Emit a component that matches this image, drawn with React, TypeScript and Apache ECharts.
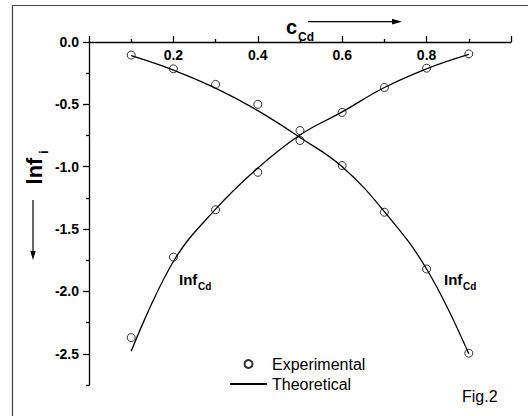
import React, { useEffect, useRef } from "react";
import * as echarts from "echarts";

// mole fraction of Cd
const xValues = [0.1, 0.2, 0.3, 0.4, 0.5, 0.6, 0.7, 0.8, 0.9];
// experimental ln f (curve rising towards pure Cd)
const expRising = [-2.37, -1.725, -1.345, -1.045, -0.71, -0.565, -0.365, -0.21, -0.095];
// experimental ln f (curve falling)
const expFalling = [-0.105, -0.215, -0.34, -0.5, -0.79, -0.99, -1.365, -1.82, -2.495];
// theoretical curves
const theoRising = [-2.48, -1.76, -1.34, -1.01, -0.745, -0.56, -0.365, -0.215, -0.1];
const theoFalling = [-0.11, -0.225, -0.37, -0.55, -0.765, -1.0, -1.36, -1.82, -2.5];

const yMajorTicks = [0, -0.5, -1.0, -1.5, -2.0, -2.5];
const yMinorTicks = [-0.25, -0.75, -1.25, -1.75, -2.25, -2.75];
const legendNames = ["Experimental", "Theoretical"];

const FONT = "'Liberation Sans', Arial, Helvetica, sans-serif";

const pairs = (ys: number[]) => xValues.map((x, i) => [x, ys[i]]);

export default function App() {
  const ref = useRef<HTMLDivElement>(null);
  useEffect(() => {
    document.body.style.margin = "0";
    const chart = echarts.init(ref.current!, null, { renderer: "svg" });
    const scatterStyle = {
      color: "rgba(255,255,255,0)",
      borderColor: "#000",
      borderWidth: 1,
    };
    const lineStyle = { color: "#000", width: 1.3 };
    chart.setOption({
      animation: false,
      backgroundColor: "#fff",
      grid: { left: 89, top: 42, width: 422, height: 343, containLabel: false },
      legend: {
        data: [
          { name: legendNames[0] },
          { name: legendNames[1], itemStyle: { opacity: 0 } },
        ],
        orient: "vertical",
        left: 229,
        top: 356,
        padding: 0,
        itemWidth: 37,
        itemHeight: 8,
        itemGap: 4,
        textStyle: { fontFamily: FONT, fontSize: 16, color: "#000" },
      },
      xAxis: {
        type: "value",
        position: "top",
        min: 0,
        max: 1,
        interval: 0.2,
        axisLine: { onZero: false, lineStyle: { color: "#000", width: 1.3 } },
        axisTick: { inside: false, length: 6, lineStyle: { color: "#000", width: 1.3 } },
        minorTick: { show: true, splitNumber: 2, length: 3, lineStyle: { color: "#000", width: 1.3 } },
        splitLine: { show: false },
        axisLabel: {
          inside: true,
          margin: 6,
          fontFamily: FONT,
          fontSize: 14,
          fontWeight: "bold",
          color: "#000",
          formatter: (v: number) => (v <= 0.0001 || v >= 0.9999 ? "" : v.toFixed(1)),
        },
      },
      yAxis: [
        {
          type: "value",
          position: "left",
          min: -2.75,
          max: 0,
          axisLine: { show: true, onZero: false, lineStyle: { color: "#000", width: 1.3 } },
          axisTick: { show: true, inside: false, length: 6, customValues: yMajorTicks, lineStyle: { color: "#000", width: 1.3 } },
          splitLine: { show: false },
          axisLabel: {
            customValues: yMajorTicks,
            margin: 10,
            fontFamily: FONT,
            fontSize: 14,
            fontWeight: "bold",
            color: "#000",
            formatter: (v: number) => v.toFixed(1),
          },
        },
        {
          type: "value",
          position: "left",
          min: -2.75,
          max: 0,
          axisLine: { show: false, onZero: false },
          axisTick: { show: true, inside: false, length: 3, customValues: yMinorTicks, lineStyle: { color: "#000", width: 1.3 } },
          splitLine: { show: false },
          axisLabel: { show: false },
        },
      ],
      series: [
        {
          name: "Theoretical",
          type: "line",
          data: pairs(theoRising),
          smooth: 0.4,
          showSymbol: false,
          symbol: "none",
          lineStyle,
          itemStyle: { color: "#000" },
        },
        {
          name: "Theoretical",
          type: "line",
          data: pairs(theoFalling),
          smooth: 0.4,
          showSymbol: false,
          symbol: "none",
          lineStyle,
          itemStyle: { color: "#000" },
        },
        {
          name: "Experimental",
          type: "scatter",
          data: pairs(expRising),
          symbol: "circle",
          symbolSize: 8,
          itemStyle: scatterStyle,
        },
        {
          name: "Experimental",
          type: "scatter",
          data: pairs(expFalling),
          symbol: "circle",
          symbolSize: 8,
          itemStyle: scatterStyle,
        },
      ],
      graphic: [
        {
          type: "rect",
          shape: { x: 12.5, y: 5.5, width: 540, height: 440 },
          style: { fill: "none", stroke: "#444", lineWidth: 1.2 },
          silent: true,
          z: -10,
        },
        // x axis title
        {
          type: "text",
          x: 286,
          y: 26.6,
          style: { text: "c", font: `bold 20px ${FONT}`, fill: "#000", align: "left", verticalAlign: "middle" },
        },
        {
          type: "text",
          x: 298,
          y: 37,
          style: { text: "Cd", font: `bold 12px ${FONT}`, fill: "#000", align: "left", verticalAlign: "middle" },
        },
        { type: "line", shape: { x1: 308, y1: 21.7, x2: 396, y2: 21.7 }, style: { stroke: "#000", lineWidth: 1.2 } },
        { type: "polygon", shape: { points: [[402, 21.7], [392, 18.8], [392, 24.6]] }, style: { fill: "#000" } },
        // y axis title
        {
          type: "text",
          x: 34,
          y: 171,
          rotation: Math.PI / 2,
          style: { text: "lnf", font: `bold 22px ${FONT}`, fill: "#000", align: "center", verticalAlign: "middle" },
        },
        {
          type: "text",
          x: 44,
          y: 152,
          rotation: Math.PI / 2,
          style: { text: "i", font: `bold 12px ${FONT}`, fill: "#000", align: "center", verticalAlign: "middle" },
        },
        { type: "line", shape: { x1: 33, y1: 200, x2: 33, y2: 253 }, style: { stroke: "#000", lineWidth: 1.2 } },
        { type: "polygon", shape: { points: [[33, 260], [30.3, 251], [35.7, 251]] }, style: { fill: "#000" } },
        // curve labels
        {
          type: "text",
          x: 179,
          y: 279.5,
          style: { text: "Inf", font: `bold 15px ${FONT}`, fill: "#000", align: "left", verticalAlign: "middle" },
        },
        {
          type: "text",
          x: 198,
          y: 286.5,
          style: { text: "Cd", font: `bold 10px ${FONT}`, fill: "#000", align: "left", verticalAlign: "middle" },
        },
        {
          type: "text",
          x: 444,
          y: 279.5,
          style: { text: "Inf", font: `bold 15px ${FONT}`, fill: "#000", align: "left", verticalAlign: "middle" },
        },
        {
          type: "text",
          x: 463,
          y: 286.5,
          style: { text: "Cd", font: `bold 10px ${FONT}`, fill: "#000", align: "left", verticalAlign: "middle" },
        },
        {
          type: "text",
          x: 462,
          y: 396,
          style: { text: "Fig.2", font: `16px ${FONT}`, fill: "#000", align: "left", verticalAlign: "middle" },
        },
      ],
    });
    return () => chart.dispose();
  }, []);
  return (
    <div
      ref={ref}
      style={{ position: "fixed", left: 0, top: 0, width: 528, height: 416 }}
    />
  );
}
